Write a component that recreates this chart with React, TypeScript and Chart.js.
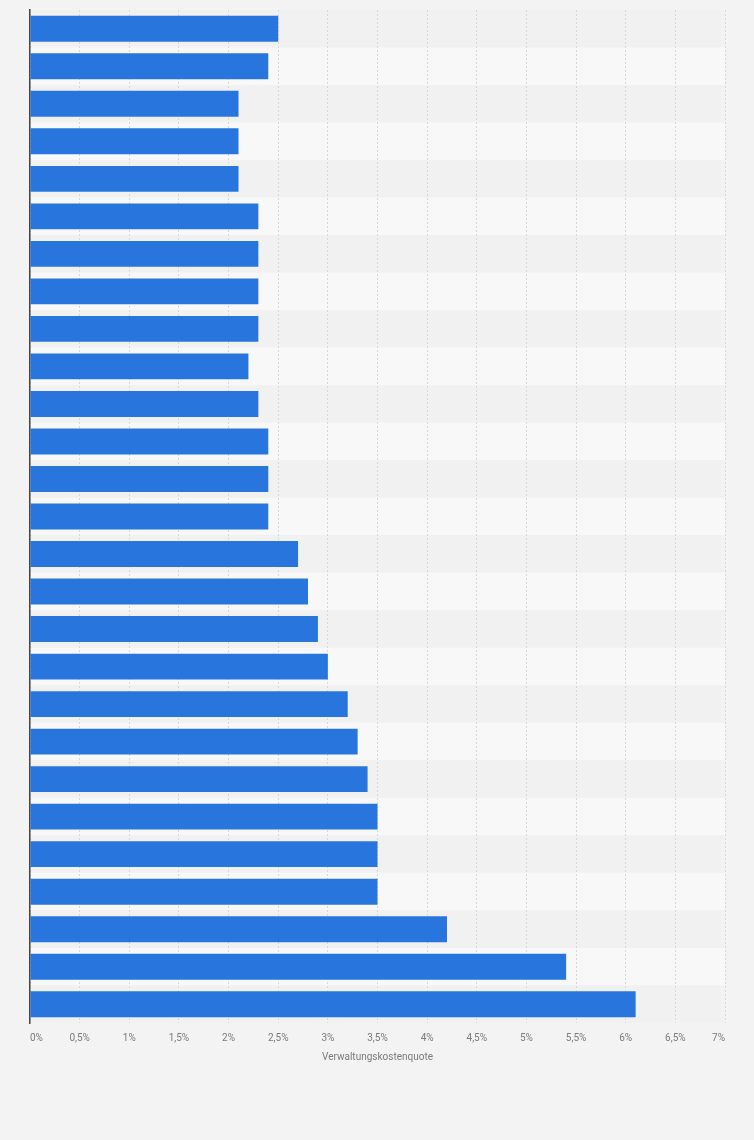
import { useEffect, useRef } from "react";
import { Chart, registerables } from "chart.js";

Chart.register(...registerables);

// Kategorien sind in der Vorlage nicht beschriftet, daher nur Rangplätze
const categories = [
  "1", "2", "3", "4", "5", "6", "7", "8", "9", "10", "11", "12", "13", "14",
  "15", "16", "17", "18", "19", "20", "21", "22", "23", "24", "25", "26", "27",
];

// Verwaltungskostenquote in %
const quote = [
  2.5, 2.4, 2.1, 2.1, 2.1, 2.3, 2.3, 2.3, 2.3, 2.2, 2.3, 2.4, 2.4, 2.4,
  2.7, 2.8, 2.9, 3.0, 3.2, 3.3, 3.4, 3.5, 3.5, 3.5, 4.2, 5.4, 6.1,
];

const axisTitle = "Verwaltungskostenquote";

const rowBands = {
  id: "rowBands",
  beforeDraw(chart: Chart) {
    const { ctx, chartArea, scales } = chart;
    const y = scales.y;
    const band = (chartArea.bottom - chartArea.top) / categories.length;
    ctx.save();
    categories.forEach((_, i) => {
      const center = y.getPixelForValue(i);
      ctx.fillStyle = i % 2 === 0 ? "#f1f1f1" : "#f8f8f8";
      ctx.fillRect(chartArea.left, center - band / 2, chartArea.right - chartArea.left, band);
    });
    ctx.restore();
  },
};

export default function App() {
  const canvasRef = useRef<HTMLCanvasElement>(null);

  useEffect(() => {
    document.body.style.margin = "0";
    const canvas = canvasRef.current;
    if (!canvas) return;

    const chart = new Chart(canvas, {
      type: "bar",
      data: {
        labels: categories,
        datasets: [
          {
            label: axisTitle,
            data: quote,
            backgroundColor: "#2876dd",
            barPercentage: 0.69,
            categoryPercentage: 1,
          },
        ],
      },
      options: {
        indexAxis: "y",
        responsive: true,
        maintainAspectRatio: false,
        animation: false,
        layout: { padding: { top: 10, left: 30, right: 29, bottom: 77 } },
        plugins: {
          legend: { display: false },
          tooltip: { enabled: false },
        },
        scales: {
          x: {
            min: 0,
            max: 7,
            grid: { color: "#d9d9d9", lineWidth: 1, drawTicks: false },
            border: { display: false, dash: [2, 2] },
            ticks: {
              stepSize: 0.5,
              padding: 9,
              align: "inner",
              color: "#7a7a7a",
              font: { size: 10, family: "Roboto" },
              callback: (v) => `${String(v).replace(".", ",")}%`,
            },
            title: {
              display: true,
              text: axisTitle,
              color: "#7a7a7a",
              font: { size: 10, family: "Roboto" },
              padding: { top: -2, bottom: 0 },
            },
          },
          y: {
            grid: { display: false, drawTicks: false },
            border: { display: true, color: "#444444", width: 1.5 },
            ticks: { display: false },
          },
        },
      },
      plugins: [rowBands],
    });

    return () => chart.destroy();
  }, []);

  return (
    <div style={{ position: "relative", width: 754, height: 1140, background: "#f3f3f3" }}>
      <canvas ref={canvasRef} />
    </div>
  );
}
